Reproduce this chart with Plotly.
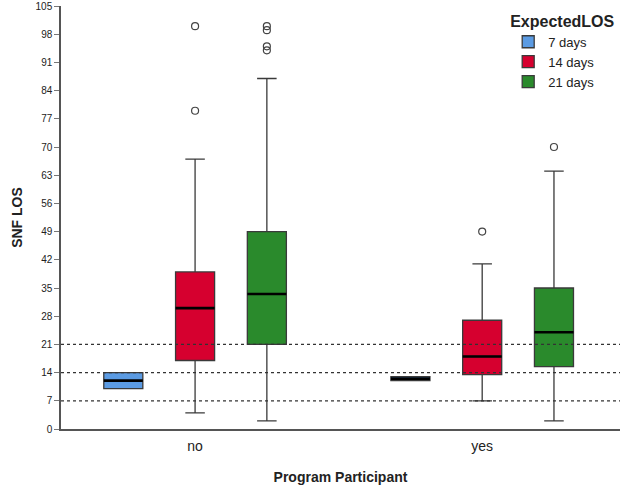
import plotly.graph_objects as go

# ---- data ----
groups = ["no", "yes"]
series = ["7 days", "14 days", "21 days"]
colors = ["#5b9be3", "#d6002f", "#2a8a2c"]

q1 = {"7 days": [10, 12], "14 days": [17, 13.5], "21 days": [21, 15.5]}
median = {"7 days": [12, 12.5], "14 days": [30, 18], "21 days": [33.5, 24]}
q3 = {"7 days": [14, 13], "14 days": [39, 27], "21 days": [49, 35]}
lowerfence = {"7 days": [10, 12], "14 days": [4, 7], "21 days": [2, 2]}
upperfence = {"7 days": [14, 13], "14 days": [67, 41], "21 days": [87, 64]}
outliers = {
    "7 days": [[], []],
    "14 days": [[100, 79], [49]],
    "21 days": [[100, 99, 95, 94], [70]],
}
ref_lines = [7, 14, 21]
yticks = list(range(0, 106, 7))

offsets = [-0.25, 0, 0.25]
box_width = 0.136

fig = go.Figure()
for si, s in enumerate(series):
    xs = [gi + offsets[si] for gi in range(len(groups))]
    fig.add_trace(go.Box(
        name=s, x=xs, q1=q1[s], median=median[s], q3=q3[s],
        lowerfence=lowerfence[s], upperfence=upperfence[s],
        width=box_width, whiskerwidth=0.5,
        fillcolor=colors[si], line=dict(color="#3a3a3a", width=1.3),
        boxpoints=False, hoverinfo="skip", legendgroup=s,
    ))
for si, s in enumerate(series):
    ox, oy = [], []
    for gi in range(len(groups)):
        for v in outliers[s][gi]:
            ox.append(gi + offsets[si])
            oy.append(v)
    if ox:
        fig.add_trace(go.Scatter(
            x=ox, y=oy, mode="markers", showlegend=False, legendgroup=s,
            marker=dict(symbol="circle-open", size=7, color="#444444",
                        line=dict(width=1.2)),
            hoverinfo="skip",
        ))

# thicker black median lines
for si, s in enumerate(series):
    for gi in range(len(groups)):
        xc = gi + offsets[si]
        fig.add_shape(type="line", xref="x", yref="y",
                      x0=xc - box_width / 2, x1=xc + box_width / 2,
                      y0=median[s][gi], y1=median[s][gi],
                      line=dict(color="black", width=2.6), layer="above")

for r in ref_lines:
    fig.add_shape(type="line", xref="paper", yref="y", x0=0, x1=1, y0=r, y1=r,
                  line=dict(color="#333333", width=1.2, dash="dot"), layer="above")

fig.update_layout(
    width=620, height=487,
    margin=dict(l=61, r=0, t=6, b=58),
    paper_bgcolor="white", plot_bgcolor="white",
    font=dict(family="Liberation Sans, Arial, sans-serif", color="#222222"),
    showlegend=True,
    legend=dict(
        title=dict(text="<b>ExpectedLOS</b>", font=dict(size=16, color="#222222")),
        x=0.80, xanchor="left", y=1.0, yanchor="top",
        bgcolor="rgba(0,0,0,0)", font=dict(size=13), tracegroupgap=0,
        itemwidth=30,
    ),
    xaxis=dict(
        range=[-0.467, 1.48], tickvals=list(range(len(groups))), ticktext=groups,
        showline=True, linecolor="#555555", linewidth=1.5, showgrid=False,
        zeroline=False, ticks="", tickfont=dict(size=14, color="#222222"),
        ticklabelstandoff=3,
        title=dict(text="<b>Program Participant</b>", font=dict(size=14), standoff=20),
    ),
    yaxis=dict(
        range=[0, 105], tickvals=yticks, showline=True, linecolor="#555555",
        linewidth=1.5, showgrid=False, zeroline=False, ticks="outside", ticklen=5,
        tickcolor="#777777", tickfont=dict(size=10, color="#222222"),
        title=dict(text="<b>SNF LOS</b>", font=dict(size=14), standoff=10),
    ),
)

fig.write_html("out.html", config={"displayModeBar": False},
               post_script="document.body.style.margin='0';")
